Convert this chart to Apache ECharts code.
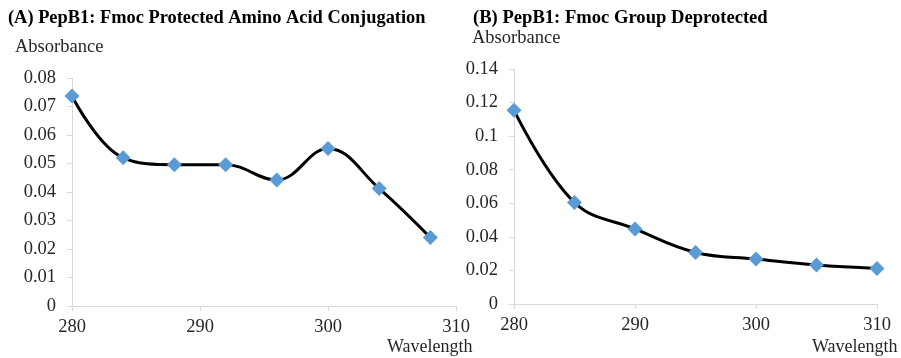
<!DOCTYPE html>
<html>
<head>
<meta charset="utf-8">
<script src="https://cdn.jsdelivr.net/npm/echarts@6/dist/echarts.min.js"></script>
<style>
html,body{margin:0;padding:0;background:#fff;}
#chart{width:901px;height:358px;}
</style>
</head>
<body>
<div id="chart"></div>
<script>
// Panel A data
const wavelengthA = [280, 284, 288, 292, 296, 300, 304, 308];
const absorbanceA = [0.0737, 0.0520, 0.0496, 0.0496, 0.0442, 0.0553, 0.0412, 0.0240];
// Panel B data
const wavelengthB = [280, 285, 290, 295, 300, 305, 310];
const absorbanceB = [0.1155, 0.0605, 0.0447, 0.0307, 0.0268, 0.0232, 0.0212];
// Axis tick settings
const xTicks = [280, 290, 300, 310];
const titleA = '(A) PepB1: Fmoc Protected Amino Acid Conjugation';
const titleB = '(B) PepB1: Fmoc Group Deprotected';

const FONT = '"Liberation Serif", "Times New Roman", serif';
const axisGray = '#d9d9d9';
const labelColor = '#262626';

function xAxisCfg(gridIndex) {
  return {
    type: 'value', gridIndex: gridIndex,
    min: xTicks[0], max: xTicks[xTicks.length - 1], interval: 10,
    axisLine: { show: true, lineStyle: { color: axisGray, width: 1 } },
    axisTick: { show: true, length: 5, lineStyle: { color: axisGray } },
    axisLabel: { color: labelColor, fontFamily: FONT, fontSize: 18.5, margin: 12 },
    splitLine: { show: false }
  };
}
function yAxisCfg(gridIndex, max, interval) {
  return {
    type: 'value', gridIndex: gridIndex, min: 0, max: max, interval: interval,
    axisLine: { show: true, lineStyle: { color: axisGray, width: 1 } },
    axisTick: { show: true, length: 5, lineStyle: { color: axisGray } },
    axisLabel: { color: labelColor, fontFamily: FONT, fontSize: 18.5, margin: 16 },
    splitLine: { show: false }
  };
}
function toPairs(xs, ys) { return xs.map((x, i) => [x, ys[i]]); }
function seriesCfg(idx, data) {
  return {
    type: 'line', xAxisIndex: idx, yAxisIndex: idx,
    data: data, smooth: 0.4,
    symbol: 'diamond', symbolSize: 15,
    itemStyle: { color: '#5b9bd5' },
    lineStyle: { color: '#000', width: 3 },
    z: 3
  };
}

const chart = echarts.init(document.getElementById('chart'), null, { renderer: 'canvas' });
chart.setOption({
  animation: false,
  backgroundColor: '#fff',
  grid: [
    { left: 72, right: 445, top: 78, bottom: 52 },
    { left: 514, right: 24, top: 69, bottom: 54 }
  ],
  xAxis: [xAxisCfg(0), xAxisCfg(1)],
  yAxis: [yAxisCfg(0, 0.08, 0.01), yAxisCfg(1, 0.14, 0.02)],
  series: [seriesCfg(0, toPairs(wavelengthA, absorbanceA)), seriesCfg(1, toPairs(wavelengthB, absorbanceB))],
  graphic: [
    { type: 'text', left: 8, top: 9, style: { text: titleA, font: 'bold 18.4px ' + FONT, fill: '#000' } },
    { type: 'text', left: 473, top: 9, style: { text: titleB, font: 'bold 18.6px ' + FONT, fill: '#000' } },
    { type: 'text', left: 15, top: 38, style: { text: 'Absorbance', font: '18.5px ' + FONT, fill: labelColor } },
    { type: 'text', left: 472, top: 29, style: { text: 'Absorbance', font: '18.5px ' + FONT, fill: labelColor } },
    { type: 'text', left: 387, top: 338, style: { text: 'Wavelength', font: '18px ' + FONT, fill: labelColor } },
    { type: 'text', left: 812, top: 338, style: { text: 'Wavelength', font: '18px ' + FONT, fill: labelColor } }
  ]
});
</script>
</body>
</html>
